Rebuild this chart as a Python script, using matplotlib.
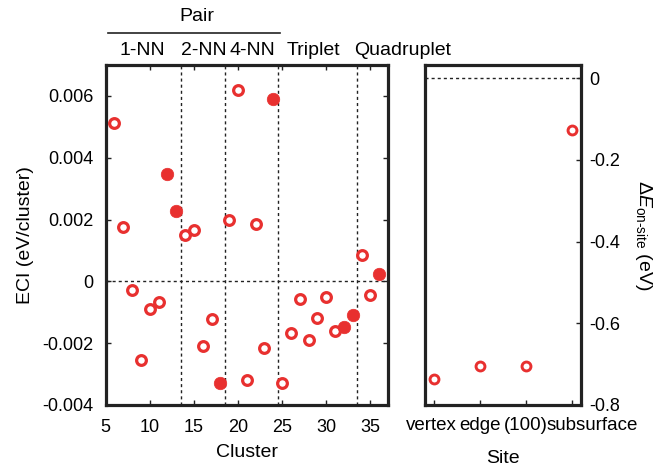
import numpy as np
import matplotlib
matplotlib.use("Agg")
import matplotlib.pyplot as plt
import matplotlib.transforms as mtransforms

plt.rcParams['font.family'] = ['Liberation Sans', 'DejaVu Sans']
plt.rcParams['axes.unicode_minus'] = False
plt.rcParams['mathtext.fontset'] = 'custom'
plt.rcParams['mathtext.rm'] = 'Liberation Sans'
plt.rcParams['mathtext.it'] = 'Liberation Sans:italic'

# ECI per cluster
cluster = [6, 7, 8, 9, 10, 11, 12, 13, 14, 15, 16, 17, 18, 19, 20, 21,
           22, 23, 24, 25, 26, 27, 28, 29, 30, 31, 32, 33, 34, 35, 36]
eci = [0.00512, 0.00175, -0.00028, -0.00253, -0.0009, -0.00066, 0.00348,
       0.00229, 0.0015, 0.00166, -0.00208, -0.00122, -0.0033, 0.00197,
       0.0062, -0.00319, 0.00187, -0.00217, 0.0059, -0.00328, -0.00167,
       -0.00058, -0.00191, -0.00117, -0.00049, -0.00162, -0.00149,
       -0.0011, 0.00085, -0.00043, 0.00025]
filled_clusters = [12, 13, 18, 24, 32, 33, 36]

# group boundaries and labels
boundaries = [13.5, 18.5, 24.5, 33.5]
group_labels = ['1-NN', '2-NN', '4-NN', 'Triplet', 'Quadruplet']
group_centers = [9.1, 16.1, 21.6, 28.6, 38.6]

# on-site energies
sites = ['vertex', 'edge', '(100)', 'subsurface']
e_onsite = [-0.736, -0.705, -0.705, -0.128]

red = '#e8302f'
dark = '#222222'
fs_tick = 13
fs_lab = 14

fig = plt.figure(figsize=(6.58, 4.70), dpi=100)
ax = fig.add_axes([0.1606, 0.1383, 0.4291, 0.7234])
ax2 = fig.add_axes([0.6459, 0.1383, 0.2371, 0.7234])

cl = np.array(cluster)
ev = np.array(eci)
mask = np.isin(cl, filled_clusters)
ax.plot(cl[~mask], ev[~mask], 'o', ms=7.0, mfc='white', mec=red, mew=2.3,
        linestyle='none', zorder=3)
ax.plot(cl[mask], ev[mask], 'o', ms=9.0, mfc=red, mec=red, mew=0.5,
        linestyle='none', zorder=3)

ax.axhline(0, color=dark, lw=1, ls=(0, (2.2, 2.2)), zorder=1)
for b in boundaries:
    ax.axvline(b, color=dark, lw=1, ls=(0, (2.2, 2.2)), zorder=1)

ax.set_xlim(5, 37)
ax.set_ylim(-0.004, 0.007)
ax.set_xticks([5, 10, 15, 20, 25, 30, 35])
ax.set_yticks([-0.004, -0.002, 0, 0.002, 0.004, 0.006])
ax.set_yticklabels(['-0.004', '-0.002', '0', '0.002', '0.004', '0.006'])
ax.tick_params(direction='in', top=True, right=True, labelsize=fs_tick,
               length=3.5, width=1, color=dark)
ax.tick_params(axis='y', pad=9)
ax.tick_params(axis='x', pad=10)
ax.set_xlabel('Cluster', fontsize=fs_lab, labelpad=6)
ax.set_ylabel('ECI (eV/cluster)', fontsize=fs_lab, labelpad=6)
for s in ax.spines.values():
    s.set_linewidth(2.3)
    s.set_color(dark)

# group annotations above the axes
trans = mtransforms.blended_transform_factory(ax.transData, ax.transAxes)
for lab, xc in zip(group_labels, group_centers):
    ax.text(xc, 1.044, lab, transform=trans, ha='center', va='center',
            fontsize=fs_lab, clip_on=False)
ax.plot([5.25, 24.75], [1.094, 1.094], transform=trans, color=dark,
        lw=1.2, clip_on=False)
ax.text(15.3, 1.144, 'Pair', transform=trans, ha='center', va='center',
        fontsize=fs_lab, clip_on=False)

# right panel
xs = np.arange(len(sites))
ax2.plot(xs, e_onsite, 'o', ms=6.4, mfc='white', mec=red, mew=2.1,
         linestyle='none', zorder=3)
ax2.axhline(0, color=dark, lw=1, ls=(0, (2.2, 2.2)), zorder=1)
ax2.set_xlim(-0.2, 3.2)
ax2.set_ylim(-0.8, 0.032)
ax2.set_xticks(xs)
ax2.set_xticklabels(sites)
ax2.set_yticks([-0.8, -0.6, -0.4, -0.2, 0])
ax2.set_yticklabels(['-0.8', '-0.6', '-0.4', '-0.2', '0'])
ax2.yaxis.tick_right()
ax2.yaxis.set_label_position('right')
ax2.tick_params(direction='in', labelsize=fs_tick, length=3.5, width=1,
                color=dark)
ax2.tick_params(axis='y', pad=6)
ax2.tick_params(axis='x', pad=9, labelsize=13.5)
# nudge the site labels so they sit side by side as in the original
labels = ax2.get_xticklabels()
first = labels[0]
first.set_transform(first.get_transform() +
                    mtransforms.ScaledTranslation(-3 / 100, 0, fig.dpi_scale_trans))
last = labels[-1]
last.set_ha('left')
last.set_transform(last.get_transform() +
                   mtransforms.ScaledTranslation(-25 / 100, 0, fig.dpi_scale_trans))
ax2.set_xlabel('Site', fontsize=fs_lab, labelpad=11)
ax2.set_ylabel(r'$\Delta E_{\mathrm{on\text{-}site}}$ (eV)', fontsize=fs_lab,
               rotation=270, labelpad=24)
for s in ax2.spines.values():
    s.set_linewidth(2.3)
    s.set_color(dark)

fig.savefig('out.png', dpi=100)
